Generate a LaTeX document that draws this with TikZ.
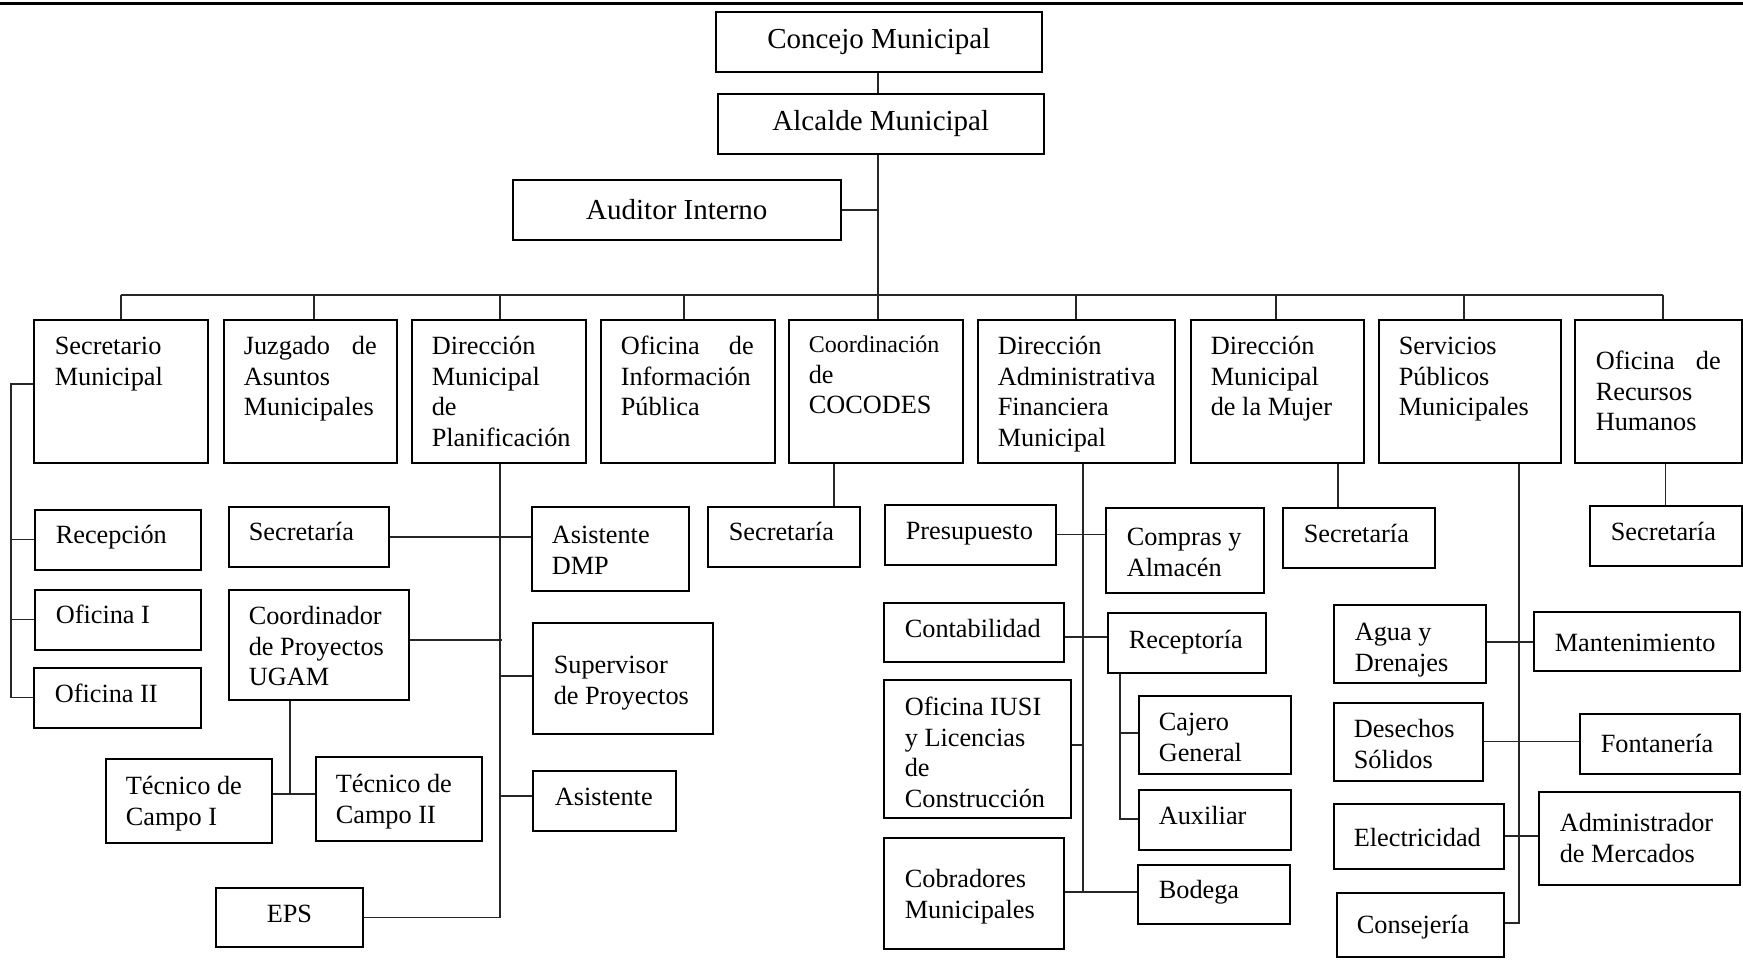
\documentclass[tikz,border=0pt]{standalone}
\usepackage{fontspec}
\setmainfont{Liberation Serif}
\newcommand\bx[5]{\begin{minipage}[c][#2pt][t]{#1pt}\vspace*{\dimexpr#4pt-\ht\strutbox\relax}\raggedright\leftskip=#3pt\relax\strut#5\par\end{minipage}}
\tikzset{
  box/.style={draw=black, line width=1.6pt, inner sep=0pt, anchor=north west},
  bigbox/.style={box, font=\fontsize{29}{33}\selectfont},
  lk/.style={draw=black!85, line width=1.3pt},
  topline/.style={draw=black, line width=3pt}
}
\begin{document}
\begin{tikzpicture}[x=1pt,y=-1pt,font=\fontsize{26.3}{30.5}\selectfont]
\useasboundingbox (0,0) rectangle (1743,962);
\coordinate (tl) at (0,3);
\coordinate (tr) at (1743,3);
\draw[topline] (tl) -- (tr);
% top
\node[bigbox, minimum width=326pt, minimum height=60pt] (concejo) at (715,11) {Concejo Municipal};
\node[bigbox, minimum width=326pt, minimum height=60pt] (alcalde) at (717,93) {Alcalde Municipal};
\node[bigbox, minimum width=328pt, minimum height=60pt] (auditor) at (512,179) {Auditor Interno};
% first row
\node[box] (sm) at (33,319) {\bx{174}{143}{21}{35}{Secretario\\Municipal}};
\node[box] (jz) at (223,319) {\bx{173}{143}{20}{35}{\makebox[133pt][s]{Juzgado de}\\Asuntos\\Municipales}};
\node[box] (dmp) at (411,319) {\bx{174}{143}{20}{35}{Dirección\\Municipal\\de\\Planificación}};
\node[box] (oip) at (600,319) {\bx{174}{143}{20}{35}{\makebox[133pt][s]{Oficina de}\\Información\\Pública}};
\node[box] (coc) at (788,319) {\bx{174}{143}{20}{33}{{\fontsize{24}{30.5}\selectfont Coordinación}\\de\\COCODES}};
\node[box] (dafm) at (977,319) {\bx{197}{143}{20}{35}{Dirección\\Administrativa\\Financiera\\Municipal}};
\node[box] (dmm) at (1190,319) {\bx{173}{143}{20}{35}{Dirección\\Municipal\\de la Mujer}};
\node[box] (spm) at (1378,319) {\bx{182}{143}{20}{35}{Servicios\\Públicos\\Municipales}};
\node[box] (rrhh) at (1574,319) {\bx{167}{143}{21}{50}{\makebox[125pt][s]{Oficina de}\\Recursos\\Humanos}};
% secretario municipal
\node[box] (rec) at (34,509) {\bx{166}{60}{21}{34}{Recepción}};
\node[box] (of1) at (34,589) {\bx{166}{60}{21}{34}{Oficina I}};
\node[box] (of2) at (33,667) {\bx{167}{60}{21}{35}{Oficina II}};
% DMP
\node[box] (secd) at (228,506) {\bx{160}{60}{20}{34}{Secretaría}};
\node[box] (adm) at (531,506) {\bx{157}{84}{20}{37}{Asistente\\DMP}};
\node[box] (cp) at (228,589) {\bx{180}{110}{20}{35}{Coordinador\\de Proyectos\\UGAM}};
\node[box] (sup) at (532,622) {\bx{180}{111}{21}{51}{Supervisor\\de Proyectos}};
\node[box] (asi) at (532,770) {\bx{143}{60}{22}{35}{Asistente}};
\node[box] (tc1) at (105,758) {\bx{166}{84}{20}{36}{Técnico de\\Campo I}};
\node[box] (tc2) at (315,756) {\bx{166}{84}{20}{36}{Técnico de\\Campo II}};
\node[box] (eps) at (215,887) {\bx{147}{59}{51}{35}{EPS}};
% COCODES
\node[box] (secc) at (707,506) {\bx{152}{60}{21}{34}{Secretaría}};
% DAFM
\node[box] (pre) at (884,504) {\bx{171}{60}{21}{35}{Presupuesto}};
\node[box] (com) at (1105,507) {\bx{158}{85}{21}{38}{Compras y\\Almacén}};
\node[box] (con) at (883,602) {\bx{180}{59}{21}{35}{Contabilidad}};
\node[box] (rcp) at (1107,612) {\bx{158}{60}{21}{36}{Receptoría}};
\node[box] (iusi) at (883,679) {\bx{187}{138}{21}{36}{Oficina IUSI\\y Licencias\\de\\Construcción}};
\node[box] (caj) at (1138,695) {\bx{152}{78}{20}{35}{Cajero\\General}};
\node[box] (aux) at (1138,789) {\bx{152}{60}{20}{35}{Auxiliar}};
\node[box] (cob) at (883,837) {\bx{180}{111}{21}{50}{Cobradores\\Municipales}};
\node[box] (bod) at (1137,864) {\bx{152}{59}{21}{34}{Bodega}};
% Mujer
\node[box] (secm) at (1282,507) {\bx{152}{60}{21}{35}{Secretaría}};
% RRHH
\node[box] (secr) at (1589,505) {\bx{152}{60}{21}{35}{Secretaría}};
% Servicios
\node[box] (agu) at (1333,604) {\bx{152}{78}{21}{36}{Agua y\\Drenajes}};
\node[box] (man) at (1533,611) {\bx{206}{59}{21}{40}{Mantenimiento}};
\node[box] (des) at (1333,702) {\bx{149}{78}{20}{35}{Desechos\\Sólidos}};
\node[box] (fon) at (1579,713) {\bx{160}{60}{21}{39}{Fontanería}};
\node[box] (ele) at (1333,803) {\bx{170}{65}{20}{43}{Electricidad}};
\node[box] (adme) at (1538,791) {\bx{201}{93}{21}{40}{Administrador\\de Mercados}};
\node[box] (cons) at (1336,892) {\bx{167}{64}{20}{41}{Consejería}};
% coordinates
\coordinate (bus) at (878,295);
\coordinate (busL) at (121,295);
\coordinate (busR) at (1663,295);
\coordinate (lb) at (11,384);
% connectors top
\draw[lk] (concejo.south -| bus) -- (alcalde.north -| bus);
\draw[lk] (alcalde.south -| bus) -- (bus);
\draw[lk, line width=1.8pt] (auditor.east) -- (auditor.east -| bus);
\draw[lk] (busL) -- (busR);
\draw[lk] (busL) -- (busL |- sm.north);
\draw[lk] (314,295) -- (314,295 |- jz.north);
\draw[lk] (500,295) -- (500,295 |- dmp.north);
\draw[lk] (684,295) -- (684,295 |- oip.north);
\draw[lk] (bus) -- (bus |- coc.north);
\draw[lk] (1076,295) -- (1076,295 |- dafm.north);
\draw[lk] (1276,295) -- (1276,295 |- dmm.north);
\draw[lk] (1464,295) -- (1464,295 |- spm.north);
\draw[lk] (busR) -- (busR |- rrhh.north);
% secretario
\draw[lk] (sm.west |- lb) -- (lb) -- (lb |- of2.west) -- (of2.west);
\draw[lk] (rec.west) -- (rec.west -| lb);
\draw[lk] (of1.west) -- (of1.west -| lb);
% DMP
\draw[lk] (dmp.south -| 500,0) -- (eps.east -| 500,0) -- (eps.east);
\draw[lk] (secd.east |- 0,537) -- (adm.west |- 0,537);
\draw[lk] (cp.east |- 0,640) -- (502,640);
\draw[lk] (sup.west |- 0,676) -- (500,676);
\draw[lk] (asi.west |- 0,796) -- (500,796);
\draw[lk] (cp.south -| 290,0) -- (290,794);
\draw[lk] (tc1.east |- 0,794) -- (tc2.west |- 0,794);
% COCODES
\draw[lk] (coc.south -| 834,0) -- (secc.north -| 834,0);
% DAFM
\draw[lk] (dafm.south -| 1083,0) -- (1083,892);
\draw[lk] (pre.east) -- (com.west |- pre.east);
\draw[lk] (con.east |- 0,637) -- (rcp.west |- 0,637);
\draw[lk] (iusi.east |- 0,745) -- (1083,745);
\draw[lk] (cob.east |- 0,892) -- (bod.west |- 0,892);
\draw[lk] (rcp.south -| 1120,0) -- (1120,819) -- (aux.west |- 0,819);
\draw[lk] (caj.west |- 0,733) -- (1120,733);
% Mujer
\draw[lk] (dmm.south -| 1338,0) -- (secm.north -| 1338,0);
% Servicios
\draw[lk] (spm.south -| 1519,0) -- (1519,923) -- (cons.east |- 0,923);
\draw[lk] (agu.east |- 0,642) -- (man.west |- 0,642);
\draw[lk] (des.east) -- (fon.west |- des.east);
\draw[lk] (ele.east |- 0,836) -- (adme.west |- 0,836);
% RRHH
\draw[lk] (secr.north) -- (secr.north |- rrhh.south);
\end{tikzpicture}
\end{document}
